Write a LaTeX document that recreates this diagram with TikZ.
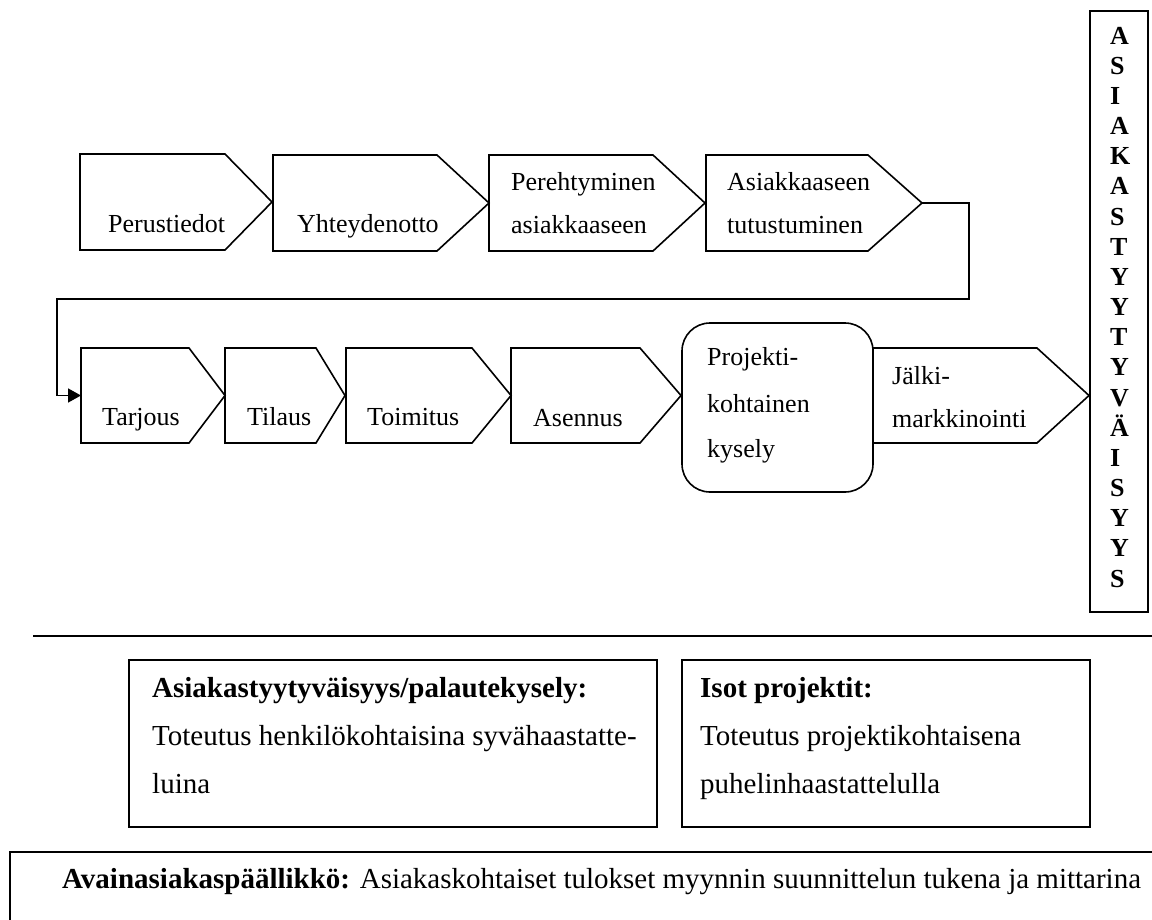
\documentclass[tikz,border=0pt]{standalone}
\usepackage{fontspec}
\setmainfont{Liberation Serif}
\usetikzlibrary{arrows.meta}

% chevron step: name, left, top, bottom, bevel x, tip x
\newcommand\stepchevron[6]{%
  \draw[shapeline] (#2,#3) -- (#5,#3) -- (#6,{(#3+#4)/2}) -- (#5,#4) -- (#2,#4) -- cycle;
  \coordinate (#1-w) at (#2,{(#3+#4)/2});
  \coordinate (#1-tip) at (#6,{(#3+#4)/2});
}

\begin{document}
\begin{tikzpicture}[x=1pt,y=-1pt,
  every node/.style={inner sep=0pt,font=\fontsize{26}{31}\selectfont},
  txt/.style={anchor=base west},
  bold/.style={anchor=base west,font=\fontsize{26}{31}\selectfont\bfseries},
  note/.style={anchor=base west,font=\fontsize{29}{31}\selectfont},
  notebold/.style={anchor=base west,font=\fontsize{29}{31}\selectfont\bfseries},
  shapeline/.style={draw=black,line width=1.6pt,line join=miter},
  conn/.style={draw=black,line width=1.6pt,-{Triangle[length=13pt,width=14pt]}},
  boxline/.style={draw=black,line width=1.8pt}
]
\useasboundingbox (0,0) rectangle (1152,919);
\clip (0,0) rectangle (1152,919);

% ---- first row of process steps
\stepchevron{perus}{80}{154}{250}{225}{272}
\stepchevron{yhteys}{273}{155}{251}{437}{489}
\stepchevron{pereh}{489}{155}{251}{653}{705}
\stepchevron{tutus}{706}{155}{251}{868}{922}

\node[txt] (t-perus) at (108,232) {Perustiedot};
\node[txt] (t-yhteys) at (297,232) {Yhteydenotto};
\node[txt] (t-pereh1) at (511,190) {Perehtyminen};
\node[txt] (t-pereh2) at (511,233) {asiakkaaseen};
\node[txt] (t-tutus1) at (727,190) {Asiakkaaseen};
\node[txt] (t-tutus2) at (727,233) {tutustuminen};

% ---- second row of process steps
\stepchevron{tarjous}{81}{348}{443}{189}{225}
\stepchevron{tilaus}{225}{348}{443}{316}{345}
\stepchevron{toimitus}{346}{348}{443}{472}{511}
\stepchevron{asennus}{511}{348}{443}{640}{681}
\stepchevron{jalki}{873}{348}{443}{1037}{1089}
\draw[shapeline,rounded corners=28pt] (682,323) rectangle (873,492);

\node[txt] (t-tarjous) at (102,425) {Tarjous};
\node[txt] (t-tilaus) at (247,425) {Tilaus};
\node[txt] (t-toimitus) at (367,425) {Toimitus};
\node[txt] (t-asennus) at (533,426) {Asennus};
\node[txt] (t-kysely1) at (707,365) {Projekti-};
\node[txt] (t-kysely2) at (707,412) {kohtainen};
\node[txt] (t-kysely3) at (707,457) {kysely};
\node[txt] (t-jalki1) at (892,384) {Jälki-};
\node[txt] (t-jalki2) at (892,427) {markkinointi};

% ---- connector from the first row to the second
\coordinate (turnR) at (969,299);
\coordinate (turnL) at (57,299);
\draw[conn] (tutus-tip) -| (turnR) -- (turnL) |- (tarjous-w);

% ---- vertical box
\draw[boxline] (1090,11) rectangle (1148,612);
\foreach \l [count=\i from 0] in {A,S,I,A,K,A,S,T,Y,Y,T,Y,V,Ä,I,S,Y,Y,S}
  \node[bold] (v\i) at (1110,{44+30.17*\i}) {\l};

% ---- separator
\coordinate (sepL) at (33,636);
\coordinate (sepR) at (1152,636);
\draw[line width=2pt] (sepL) -- (sepR);

% ---- survey boxes
\draw[boxline] (129,660) rectangle (657,827);
\node[notebold] (b1-h) at (152,697) {Asiakastyytyväisyys/palautekysely:};
\node[note] (b1-l1) at (152,745) {Toteutus henkilökohtaisina syvähaastatte-};
\node[note] (b1-l2) at (152,793) {luina};

\draw[boxline] (682,660) rectangle (1090,827);
\node[notebold] (b2-h) at (700,697) {Isot projektit:};
\node[note] (b2-l1) at (700,745) {Toteutus projektikohtaisena};
\node[note] (b2-l2) at (700,793) {puhelinhaastattelulla};

% ---- key account manager box
\draw[boxline] (10,852) rectangle (1170,940);
\node[note] (b3) at (62,888) {\textbf{Avainasiakaspäällikkö:} Asiakaskohtaiset tulokset myynnin suunnittelun tukena ja mittarina};
\end{tikzpicture}
\end{document}
